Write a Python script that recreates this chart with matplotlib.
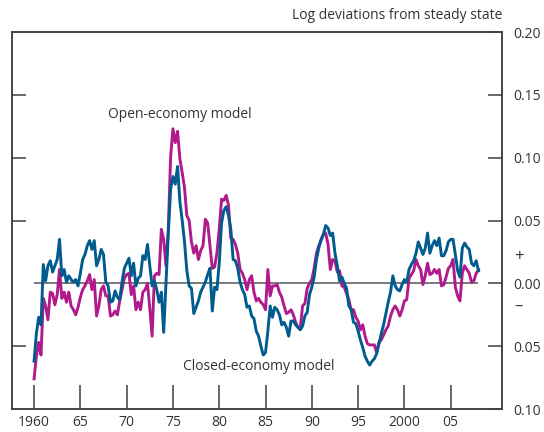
import numpy as np
import matplotlib
matplotlib.use("Agg")
import matplotlib.pyplot as plt

plt.rcParams['font.family'] = ['Open Sans', 'DejaVu Sans']

# quarterly observations, 1960 Q1 to 2008 Q1
start_year = 1960
closed_economy = [
    -0.062, -0.040, -0.027, -0.033, 0.015, 0.002, 0.014, 0.018, 0.009, 0.014,
    0.019, 0.035, 0.006, 0.011, 0.001, 0.006, 0.003, 0.001, 0.003, -0.002,
    0.008, 0.019, 0.023, 0.030, 0.034, 0.027, 0.034, 0.014, 0.019, 0.027,
    0.023, 0.001, -0.002, -0.015, -0.014, -0.006, -0.011, -0.013, 0.001, 0.012,
    0.016, 0.020, 0.006, 0.016, -0.002, 0.004, 0.006, 0.022, 0.019, 0.031,
    0.014, -0.002, 0.002, -0.005, -0.015, -0.007, -0.039, 0.000, 0.040, 0.075,
    0.085, 0.079, 0.093, 0.065, 0.050, 0.033, 0.010, -0.002, -0.004, -0.024,
    -0.019, -0.014, -0.007, -0.003, 0.001, 0.007, 0.012, -0.022, -0.003, -0.005,
    0.016, 0.048, 0.058, 0.061, 0.054, 0.043, 0.019, 0.018, 0.012, 0.001,
    -0.005, -0.009, -0.019, -0.018, -0.026, -0.028, -0.038, -0.042, -0.050, -0.057,
    -0.055, -0.038, -0.018, -0.027, -0.019, -0.021, -0.025, -0.033, -0.031, -0.035,
    -0.042, -0.030, -0.030, -0.033, -0.035, -0.037, -0.034, -0.026, -0.023, -0.009,
    -0.003, 0.005, 0.019, 0.028, 0.035, 0.039, 0.046, 0.044, 0.038, 0.040,
    0.024, 0.014, 0.002, 0.005, 0.000, -0.004, -0.018, -0.021, -0.031, -0.032,
    -0.038, -0.045, -0.051, -0.058, -0.062, -0.065, -0.062, -0.060, -0.056, -0.048,
    -0.040, -0.033, -0.024, -0.015, -0.007, 0.006, -0.002, -0.005, -0.006, -0.001,
    0.003, 0.001, 0.011, 0.015, 0.018, 0.024, 0.033, 0.028, 0.023, 0.028,
    0.040, 0.024, 0.030, 0.034, 0.030, 0.036, 0.022, 0.022, 0.026, 0.033,
    0.035, 0.035, 0.023, 0.010, 0.005, 0.028, 0.032, 0.029, 0.027, 0.016,
    0.014, 0.018, 0.010,
]
open_economy = [
    -0.076, -0.058, -0.047, -0.057, -0.012, -0.018, -0.029, -0.007, -0.008, -0.017,
    -0.009, 0.011, -0.012, -0.007, -0.015, -0.007, -0.018, -0.021, -0.025, -0.019,
    -0.011, -0.005, -0.002, 0.002, 0.007, -0.005, 0.003, -0.026, -0.018, -0.005,
    -0.002, -0.010, -0.010, -0.026, -0.025, -0.022, -0.025, -0.014, -0.005, 0.004,
    0.007, 0.008, -0.009, -0.002, -0.021, -0.015, -0.021, -0.007, -0.005, 0.000,
    -0.020, -0.042, 0.006, 0.008, 0.007, 0.043, 0.035, 0.014, 0.043, 0.101,
    0.123, 0.112, 0.121, 0.099, 0.088, 0.076, 0.054, 0.050, 0.033, 0.024,
    0.030, 0.019, 0.026, 0.030, 0.051, 0.048, 0.030, 0.012, 0.013, 0.024,
    0.043, 0.067, 0.066, 0.070, 0.062, 0.036, 0.035, 0.031, 0.024, 0.011,
    0.008, 0.003, -0.005, 0.003, 0.006, -0.007, -0.014, -0.012, -0.015, -0.017,
    -0.021, 0.011, -0.010, -0.002, -0.002, -0.001, -0.007, -0.011, -0.018, -0.024,
    -0.023, -0.021, -0.025, -0.031, -0.035, -0.036, -0.018, -0.016, -0.004, 0.000,
    0.003, 0.012, 0.024, 0.030, 0.034, 0.039, 0.040, 0.031, 0.011, 0.019,
    0.018, 0.009, 0.010, -0.002, -0.003, -0.008, -0.013, -0.021, -0.021, -0.027,
    -0.030, -0.037, -0.033, -0.042, -0.048, -0.049, -0.049, -0.049, -0.055, -0.047,
    -0.045, -0.041, -0.037, -0.034, -0.026, -0.021, -0.018, -0.021, -0.026, -0.021,
    -0.014, -0.013, 0.004, 0.007, 0.010, 0.019, 0.014, 0.011, -0.001, 0.006,
    0.016, 0.007, 0.008, 0.011, 0.008, 0.011, -0.002, -0.001, 0.005, 0.012,
    0.014, 0.019, -0.003, -0.010, -0.014, 0.008, 0.014, 0.011, 0.008, 0.001,
    0.002, 0.008, 0.011,
]
year_ticks = [1960, 1965, 1970, 1975, 1980, 1985, 1990, 1995, 2000, 2005]
year_labels = ['1960', '65', '70', '75', '80', '85', '90', '95', '2000', '05']
value_ticks = [-0.10, -0.05, 0.00, 0.05, 0.10, 0.15, 0.20]
value_labels = ['0.10', '0.05', '0.00', '0.05', '0.10', '0.15', '0.20']

dates = start_year + np.arange(len(closed_economy)) / 4.0

blue = '#005b8e'
magenta = '#b01a8d'
ink = '#333333'

fig = plt.figure(figsize=(5.44, 4.32), dpi=100)
ax = fig.add_axes([0.0221, 0.0532, 0.9007, 0.8727])

ax.hlines(0, dates[0], dates[-1], color='#555555', lw=1.1, zorder=1)
ax.plot(dates, open_economy, color=magenta, lw=2.1, zorder=2)
ax.plot(dates, closed_economy, color=blue, lw=2.1, zorder=3)

ax.set_xlim(1957.62, 2010.54)
ax.set_ylim(-0.10, 0.20)

for s in ax.spines.values():
    s.set_color('#404040')
    s.set_linewidth(1.1)

ax.set_xticks(year_ticks)
ax.set_xticklabels(year_labels)
ax.tick_params(axis='x', direction='in', length=17, width=1.1, color='#404040',
               labelsize=10, labelcolor=ink, pad=4)

# left side: ticks only, none at zero
ax.set_yticks([-0.05, 0.05, 0.10, 0.15])
ax.tick_params(axis='y', direction='in', length=10, width=1.1, color='#404040',
               labelleft=False)

ax2 = ax.twinx()
ax2.set_ylim(-0.10, 0.20)
ax2.set_yticks(value_ticks)
ax2.set_yticklabels(value_labels)
ax2.tick_params(axis='y', direction='in', length=10, width=1.1, color='#404040',
                labelsize=10, labelcolor=ink, pad=8)
for s in ax2.spines.values():
    s.set_color('#404040')
    s.set_linewidth(1.1)
for lab in ax2.get_yticklabels():
    lab.set_horizontalalignment('left')

# sign markers either side of the zero label
ax2.text(1.025, 0.402, '+', transform=ax2.transAxes, fontsize=12,
         color=ink, ha='left', va='center')
ax2.text(1.025, 0.272, '\u2013', transform=ax2.transAxes, fontsize=12,
         color=ink, ha='left', va='center')

ax.text(1.0, 1.025, 'Log deviations from steady state', transform=ax.transAxes,
        fontsize=10, color=ink, ha='right', va='bottom')

ax.text(1968.0, 0.134, 'Open-economy model', fontsize=10, color=ink,
        ha='left', va='center')
ax.text(1976.1, -0.066, 'Closed-economy model', fontsize=10, color=ink,
        ha='left', va='center')

fig.savefig('out.png', dpi=100)
